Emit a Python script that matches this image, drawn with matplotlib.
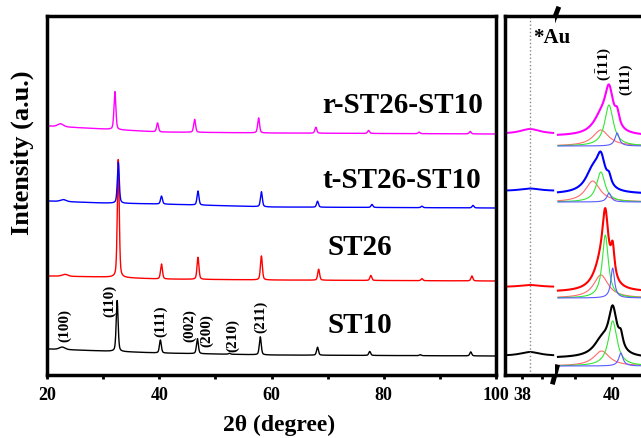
import numpy as np
import matplotlib.pyplot as plt

plt.rcParams['font.family'] = 'Liberation Serif'
plt.rcParams['font.weight'] = 'bold'
plt.rcParams['mathtext.fontset'] = 'custom'
plt.rcParams['mathtext.rm'] = 'Liberation Serif:bold'
plt.rcParams['mathtext.bf'] = 'Liberation Serif:bold'
plt.rcParams['mathtext.it'] = 'Liberation Serif:bold'

# =====================================
# DATA (intensity in arbitrary stacked units)
# =====================================
names = ["ST10", "ST26", "t-ST26-ST10", "r-ST26-ST10"]
colors = ["black", "red", "blue", "magenta"]

base_angles = [20, 30, 40, 60, 100]
base_st10 = [26, 24, 22, 20, 19]
base_st26 = [99, 98, 96, 95, 94]
base_t = [174, 172, 171, 168, 167]
base_r = [249, 246, 243, 242, 241]

pos_st10 = [22.7, 32.5, 40.2, 46.8, 52.5, 58.0, 68.2, 77.5, 86.5, 95.5]
h_st10 = [2.5, 51, 13, 15, 1, 18, 8, 4, 1, 4]
pos_st26 = [23.2, 32.7, 40.4, 46.9, 58.2, 68.4, 77.7, 86.8, 95.7]
h_st26 = [2, 118, 15, 22, 24, 11, 5, 2, 5]
pos_t = [22.9, 32.7, 40.4, 46.9, 58.2, 68.2, 77.9, 86.8, 95.9]
h_t = [2, 41, 8, 14, 15, 6, 3, 1.5, 2.5]
pos_r = [22.4, 32.1, 39.7, 46.3, 57.7, 67.9, 77.3, 86.3, 95.4]
h_r = [3, 38, 9, 13, 15, 6, 3, 1.5, 2.5]

hkl_labels = ["(100)", "(110)", "(111)", "(002)", "(200)", "(210)", "(211)"]
hkl_x = [23.2, 31.2, 40.2, 45.5, 48.5, 53.0, 58.0]
hkl_y = [51, 75, 55, 50, 45, 40, 59]

# zoomed window around 38-40 degrees
au_pos = 38.2
au_h = [4, 2, 2.5, 5]
left_base = [19, 88, 184, 241]
fit_base = [9, 77, 173, 229]
raw_extra = [8, 6, 8, 10]
fit_colors = ["#ff6a6a", "#33e633", "#5a5aff"]
fit_pos_st10 = [39.86, 40.01, 40.12]
fit_h_st10 = [15, 45, 13]
fit_w_st10 = [0.13, 0.07, 0.035]
fit_pos_st26 = [39.85, 39.91, 40.01]
fit_h_st26 = [23, 63, 30]
fit_w_st26 = [0.12, 0.05, 0.03]
fit_pos_t = [39.74, 39.85, 39.96]
fit_h_t = [21, 30, 9]
fit_w_t = [0.12, 0.07, 0.035]
fit_pos_r = [39.85, 39.96, 40.07]
fit_h_r = [16, 41, 13]
fit_w_r = [0.13, 0.07, 0.035]


def lor(x, c, h, w):
    return h / (1 + ((x - c) / w) ** 2)


def pvoigt(x, c, h, w):
    g = np.exp(-np.log(2) * ((x - c) / w) ** 2)
    return h * (0.6 * g + 0.4 / (1 + ((x - c) / w) ** 2))


fig = plt.figure(figsize=(6.41, 4.39), dpi=100)
W, H = 641, 439

ax = fig.add_axes([47 / W, 63 / H, 449 / W, 359 / H])
axL = fig.add_axes([505 / W, 63 / H, 50 / W, 359 / H])
axR = fig.add_axes([555 / W, 63 / H, 145 / W, 359 / H])
axR.set_facecolor("none")
axL.set_zorder(3)

# =====================================
# MAIN PANEL
# =====================================
x = np.arange(20, 100.001, 0.02)
bases = [base_st10, base_st26, base_t, base_r]
poss = [pos_st10, pos_st26, pos_t, pos_r]
hs = [h_st10, h_st26, h_t, h_r]
for b, p, h, c in zip(bases, poss, hs, colors):
    y = np.interp(x, base_angles, b)
    for pc, ph in zip(p, h):
        y = y + pvoigt(x, pc, ph, 0.6 if pc < 24 else 0.2)
    ax.plot(x, y, color=c, lw=1.0)

ax.text(69.0, 263, "r-ST26-ST10", fontsize=21, fontweight="bold", va="baseline")
ax.text(69.0, 188, "t-ST26-ST10", fontsize=21, fontweight="bold", va="baseline")
ax.text(69.9, 121, "ST26", fontsize=21, fontweight="bold", va="baseline")
ax.text(69.9, 43, "ST10", fontsize=21, fontweight="bold", va="baseline")

for lab, lx, ly in zip(hkl_labels, hkl_x, hkl_y):
    ax.text(lx, ly, lab, rotation=90, fontsize=11, fontweight="bold",
            ha="center", va="center")

ax.set_xlim(20, 100)
ax.set_ylim(0, 359)
ax.set_xticks([20, 40, 60, 80, 100])
ax.set_xticks([30, 50, 70, 90], minor=True)
ax.set_yticks([])

# =====================================
# ZOOM PANEL (broken axis)
# =====================================
xl = np.linspace(37.6, 38.78, 200)
xr = np.linspace(39.27, 41.2, 600)
fits = [(fit_pos_st10, fit_h_st10, fit_w_st10),
        (fit_pos_st26, fit_h_st26, fit_w_st26),
        (fit_pos_t, fit_h_t, fit_w_t),
        (fit_pos_r, fit_h_r, fit_w_r)]
for i, c in enumerate(colors):
    axL.plot(xl, left_base[i] + lor(xl, au_pos, au_h[i], 0.3), color=c, lw=1.4)
    fp, fh, fw = fits[i]
    total = np.zeros_like(xr)
    for pc, ph, pw, fc in zip(fp, fh, fw, fit_colors):
        comp = lor(xr, pc, ph, pw)
        total += comp
        axR.plot(xr, fit_base[i] + comp, color=fc, lw=0.8)
    axR.plot(xr, fit_base[i] + raw_extra[i] + total, color=c, lw=1.5)

axL.axvline(au_pos, color="#888888", ls=":", lw=1)
axL.text(38.275, 333, "*Au", fontsize=15, fontweight="bold", va="baseline",
         clip_on=False, zorder=5)
axR.text(39.905, 312, r"$(\bar{1}11)$", rotation=90, fontsize=11,
         ha="center", va="center")
axR.text(40.18, 297, "(111)", rotation=90, fontsize=11, fontweight="bold",
         ha="center", va="center")

axL.set_xlim(37.575, 38.825)
axR.set_xlim(39.23, 41.19)
for a in (axL, axR):
    a.set_ylim(0, 359)
    a.set_yticks([])
axL.set_xticks([38])
axL.set_xticks([38.5], minor=True)
axR.set_xticks([40])
axR.set_xticks([39.5, 40.5], minor=True)
axL.spines["right"].set_visible(False)
axR.spines["left"].set_visible(False)

for a in (ax, axL, axR):
    for s in a.spines.values():
        s.set_linewidth(2.5)
    a.tick_params(axis="x", which="both", direction="out", width=2,
                  length=3, labelsize=13, pad=5, top=False)
    for t in a.get_xticklabels():
        t.set_fontweight("bold")

# break marks
fig.add_artist(plt.Line2D([553 / W, 558 / W], [1 - 23 / H, 1 - 10 / H],
                          color="black", lw=3.5))
fig.add_artist(plt.Line2D([553 / W, 557 / W], [1 - 383 / H, 1 - 368 / H],
                          color="black", lw=3.5))

fig.text(279 / W, 1 - 425 / H, "2θ (degree)", fontsize=17, fontweight="bold",
         ha="center", va="center")
fig.text(22 / W, 1 - 153 / H, "Intensity (a.u.)", fontsize=19,
         fontweight="bold", rotation=90, ha="center", va="center")

plt.savefig("out.png", dpi=100)
